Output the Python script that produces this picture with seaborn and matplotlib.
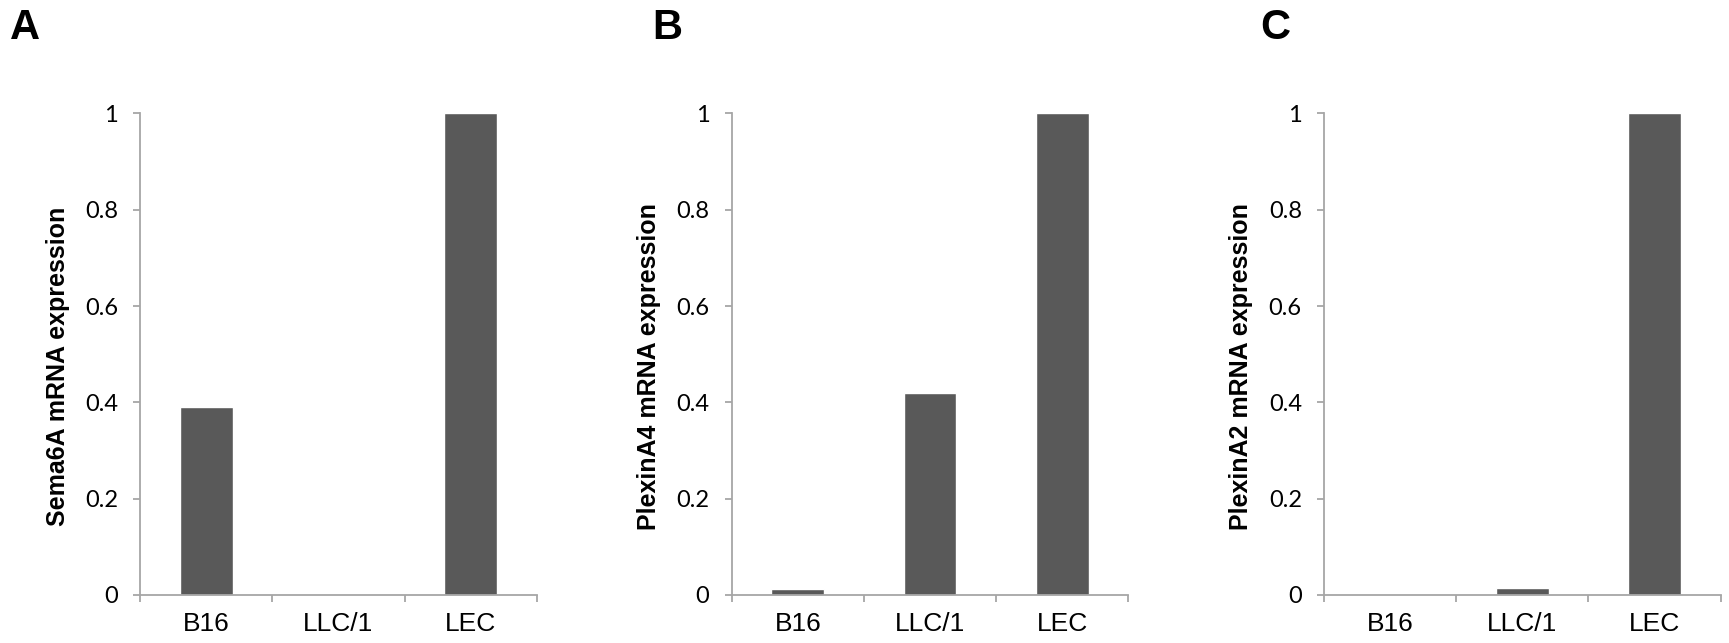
import pandas as pd
import seaborn as sns
import matplotlib.pyplot as plt
from matplotlib.ticker import FixedLocator

# cell lines and relative mRNA expression
cells = ['B16', 'LLC/1', 'LEC']
sema6a = [0.39, 0.0, 1.0]
plexina4 = [0.013, 0.42, 1.0]
plexina2 = [0.0, 0.015, 1.0]

panels = ['A', 'B', 'C']
ylabels = ['Sema6A mRNA expression', 'PlexinA4 mRNA expression', 'PlexinA2 mRNA expression']
series = [sema6a, plexina4, plexina2]
yticks = [0, 0.2, 0.4, 0.6, 0.8, 1]
yticklabels = ['0', '0.2', '0.4', '0.6', '0.8', '1']

sns.set_style('white')
plt.rcParams['font.family'] = ['Liberation Sans', 'DejaVu Sans']
plt.rcParams['text.color'] = 'black'
plt.rcParams['axes.labelcolor'] = 'black'
fig = plt.figure(figsize=(17.29, 6.43), dpi=100)

axis_gray = '#a6a6a6'
lefts = [0.0811, 0.4232, 0.7658]
letter_x = [0.006, 0.377, 0.729]

for i in range(3):
    ax = fig.add_axes([lefts[i], 0.0747, 0.2293, 0.749])
    df = pd.DataFrame({'cell': cells, 'expr': series[i]})
    sns.barplot(data=df, x='cell', y='expr', color='#595959', width=0.4,
                saturation=1, ax=ax)
    ax.set_ylim(0, 1)
    ax.set_xlim(-0.5, 2.5)
    ax.set_yticks(yticks)
    ax.set_yticklabels(yticklabels)
    ax.set_xticks(range(3))
    ax.set_xticklabels(cells)
    ax.xaxis.set_minor_locator(FixedLocator([-0.5, 0.5, 1.5, 2.5]))
    ax.tick_params(axis='x', which='major', length=0, pad=12, labelcolor='black',
                   labelsize=19, labelfontfamily='Liberation Sans')
    ax.tick_params(axis='x', which='minor', length=5, width=1.3,
                   color=axis_gray, direction='out', bottom=True)
    ax.tick_params(axis='y', which='major', length=5, width=1.3,
                   color=axis_gray, direction='out', left=True, pad=11,
                   labelcolor='black', labelsize=17, labelfontfamily='Lato')
    for s in ['top', 'right']:
        ax.spines[s].set_visible(False)
    for s in ['left', 'bottom']:
        ax.spines[s].set_color(axis_gray)
        ax.spines[s].set_linewidth(1.3)
    ax.set_xlabel('')
    ax.set_ylabel(ylabels[i], fontweight='bold', fontsize=18)
    ax.yaxis.set_label_coords(-0.178, 0.475)
    fig.text(letter_x[i], 0.939, panels[i], fontweight='bold', fontsize=30,
             va='baseline', ha='left')

fig.savefig('out.png', dpi=100)
